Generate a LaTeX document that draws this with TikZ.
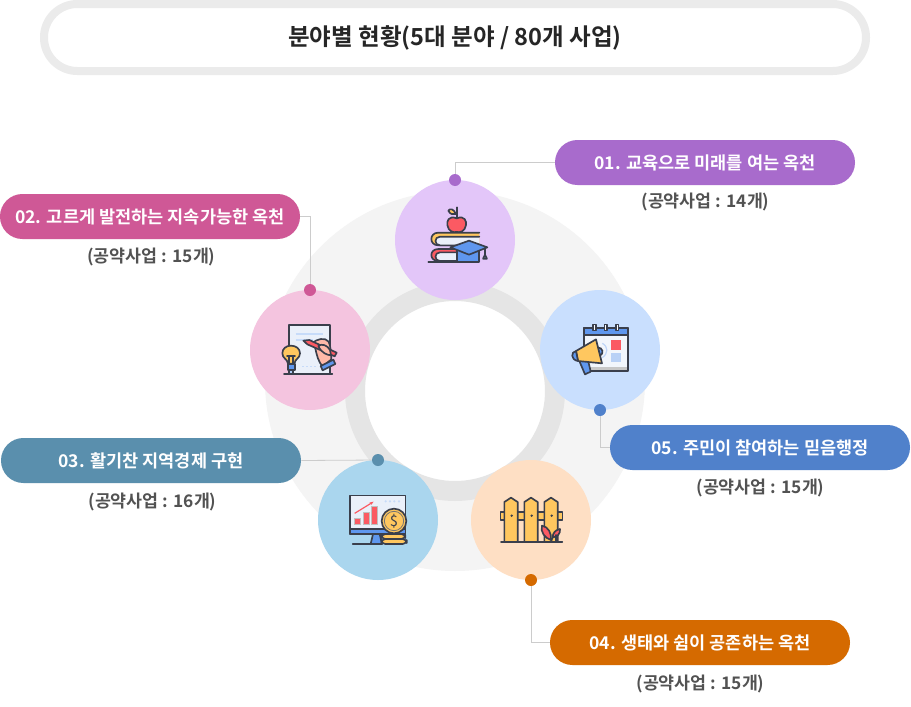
\documentclass[tikz,border=0pt]{standalone}
\usepackage{fontspec}
\setmainfont{Noto Sans CJK KR}
\newfontfamily\krmed{Noto Sans CJK KR Bold}
\usetikzlibrary{calc,arrows.meta}
\definecolor{ink}{HTML}{3A3F4C}
\definecolor{yel}{HTML}{FFC75F}
\definecolor{redd}{HTML}{FB5A63}
\definecolor{blu}{HTML}{5F97EE}
\definecolor{pal}{HTML}{EAF0FA}
\definecolor{skin}{HTML}{FFB9A8}
\definecolor{cone}{RGB}{227,198,249}
\definecolor{ctwo}{RGB}{244,196,223}
\definecolor{cthree}{RGB}{170,214,238}
\definecolor{cfour}{RGB}{254,223,196}
\definecolor{cfive}{RGB}{201,223,254}
\definecolor{pone}{RGB}{168,107,204}
\definecolor{ptwo}{RGB}{207,88,150}
\definecolor{pthree}{RGB}{90,143,173}
\definecolor{pfour}{RGB}{213,106,0}
\definecolor{pfive}{RGB}{80,129,203}
\tikzset{
 pill/.style={rounded corners=16.8pt,minimum width=225pt,minimum height=33.75pt,inner sep=0pt,text=white,font=\krmed\fontsize{13.15pt}{14pt}\selectfont},
 sub/.style={text=black!68,font=\krmed\fontsize{13pt}{14pt}\selectfont,inner sep=0pt},
 big/.style={circle,minimum size=90pt,inner sep=0pt},
 dot/.style={circle,minimum size=9pt,inner sep=0pt},
 conn/.style={draw=black!20,line width=0.6pt},
 ico/.style={draw=ink,line width=1.25pt,line join=round,line cap=round},
 zoomed/.style={x=0.25pt,y=-0.25pt}
}
\begin{document}
\begin{tikzpicture}[x=0.75pt,y=-0.75pt]
\useasboundingbox (0,0) rectangle (911,707);
\fill[white] (0,0) rectangle (911,707);
% title
\node[draw=black!8,line width=6pt,fill=white,rounded corners=25pt,minimum width=616.5pt,minimum height=50.25pt,inner sep=0pt,
 font=\krmed\fontsize{17.65pt}{18pt}\selectfont,text=black!85] (title) at (455,37.5) {\raisebox{-1pt}{분야별 현황(5대 분야 / 80개 사업)}};
% wheel
\node[circle,fill=black!4.5,minimum size=285pt,inner sep=0pt] (bg) at (455,381) {};
\node[circle,fill=white,draw=black!10,line width=15pt,minimum size=150pt,inner sep=0pt] (ring) at (455,391) {};
% big circles
\node[big,fill=cone] (c1) at (455,240) {};
\node[big,fill=cfive] (c5) at (600,350) {};
\node[big,fill=ctwo] (c2) at (310,350) {};
\node[big,fill=cthree] (c3) at (378,520) {};
\node[big,fill=cfour] (c4) at (531,520) {};
% pills
\node[pill,fill=pone] (p1) at (705,162.5) {01. 교육으로 미래를 여는 옥천};
\node[pill,fill=ptwo] (p2) at (150,216.5) {02. 고르게 발전하는 지속가능한 옥천};
\node[pill,fill=pthree] (p3) at (151,460.5) {03. 활기찬 지역경제 구현};
\node[pill,fill=pfour] (p4) at (700,642.5) {04. 생태와 쉼이 공존하는 옥천};
\node[pill,fill=pfive] (p5) at (760,447.5) {05. 주민이 참여하는 믿음행정};
% dots
\node[dot,fill=pone] (d1) at (455,180) {};
\node[dot,fill=ptwo] (d2) at (310,290) {};
\node[dot,fill=pthree] (d3) at (378,460) {};
\node[dot,fill=pfour] (d4) at (531,580) {};
\node[dot,fill=pfive] (d5) at (600,410) {};
% connectors
\draw[conn] (d1) |- (p1.west);
\draw[conn] (d2) |- (p2.east);
\draw[conn] (p3.east) -- (d3);
\draw[conn] (d4) |- (p4.west);
\draw[conn] (d5) |- (p5.west);
% sublabels
\node[sub] (s1) at (705.5,202) {(공약사업 : 14개)};
\node[sub] (s2) at (151.5,257) {(공약사업 : 15개)};
\node[sub] (s3) at (152.5,502) {(공약사업 : 16개)};
\node[sub] (s4) at (700.5,684) {(공약사업 : 15개)};
\node[sub] (s5) at (760.5,488) {(공약사업 : 15개)};
% icon 1 books
\begin{scope}[shift={(395,180)},zoomed]
 \draw[ico,fill=yel] (253,158) -- (130,158) .. controls (102,158) and (102,196) .. (130,196) -- (253,196);
 \draw[ico,fill=pal] (253,170) -- (135,170) .. controls (117,170) and (117,196) .. (135,196) -- (253,196);
 \draw[ico,fill=redd] (253,207) -- (130,207) .. controls (102,207) and (102,243) .. (130,243) -- (253,243);
 \draw[ico,fill=pal] (253,217) -- (135,217) .. controls (117,217) and (117,243) .. (135,243) -- (253,243);
 \draw[ico,fill=blu] (185,205) -- (185,245) -- (251,245) -- (251,205) -- cycle;
 \draw[ico,fill=blu] (166,202) -- (222,182) -- (277,202) -- (222,224) -- cycle;
 \draw[ico] (270,206) -- (270,226);
 \draw[ico,fill=blu!60] (270,224) -- (276,236) -- (264,236) -- cycle;
 \draw[ico] (100,245) -- (185,245);
 \draw[ico,fill=redd] (185,115) .. controls (160,105) and (155,125) .. (157,135) .. controls (160,155) and (175,158) .. (185,156) .. controls (195,158) and (210,155) .. (213,135) .. controls (215,125) and (210,105) .. (185,115) -- cycle;
 \draw[ico] (185,115) -- (185,82);
 \draw[ico,fill=yel] (183,102) .. controls (175,85) and (165,85) .. (160,92) .. controls (165,103) and (175,105) .. (183,102) -- cycle;
\end{scope}
% icon 5 calendar + megaphone
\begin{scope}[shift={(540,290)},zoomed]
 \draw[ico,fill=pal!60!white] (132,113) rectangle (263,243);
 \draw[ico,fill=blu] (132,113) rectangle (263,135);
 \fill[black!22] (134,231) rectangle (261,241);
 \foreach \xx in {163,197,231}{\draw[ico,fill=white] (\xx-4,103) rectangle (\xx+4,121);}
 \fill[redd] (213,151) rectangle (242,180);
 \fill[blu!35!pal] (213,189) rectangle (242,217);
 \draw[blu!40,line width=0.9pt] (187,160) .. controls (205,170) and (205,190) .. (187,203);
 \draw[ico,fill=blu] (118,213) -- (143,205) -- (152,245) -- (135,253) -- cycle;
 \draw[ico,fill=blu] (172,172) .. controls (190,172) and (192,192) .. (180,197) -- cycle;
 \draw[ico,fill=yel] (108,183) -- (168,148) -- (186,220) -- (114,213) -- cycle;
 \draw[ico,fill=blu] (108,183) .. controls (92,185) and (92,210) .. (114,213) -- cycle;
\end{scope}
% icon 2 paper, bulb, hand
\begin{scope}[shift={(250,290)},zoomed]
 \draw[ico,fill=pal] (116,251) -- (116,104) -- (239,104) -- (239,251);
 \draw[blu!35,line width=0.8pt] (137,132) -- (218,132) (137,150) -- (190,150);
 \draw[blu!35,line width=0.8pt,dash pattern=on 1.5pt off 1.5pt] (157,229) -- (197,229);
 \draw[ico,fill=skin] (188,158) .. controls (200,148) and (225,140) .. (236,155) .. controls (243,170) and (243,195) .. (244,208) -- (218,230) .. controls (205,215) and (200,195) .. (196,175) -- cycle;
 \draw[ico,fill=redd] (160,152) -- (178,150) -- (260,188) -- (254,199) -- (172,163) -- cycle;
 \draw[ico,fill=skin] (205,168) .. controls (215,160) and (232,165) .. (240,180) -- (243,196) .. controls (232,195) and (215,190) .. (205,168) -- cycle;
 \draw[ico,fill=blu] (212,228) -- (250,209) -- (256,222) -- (218,241) -- cycle;
 \draw[ico,fill=yel] (114,221) .. controls (112,206) and (97,205) .. (97,190) .. controls (97,176) and (108,167) .. (123,167) .. controls (138,167) and (150,176) .. (150,190) .. controls (150,205) and (135,206) .. (133,221) -- cycle;
 \draw[ico] (117,221) -- (117,198) (129,221) -- (129,198) (111,198) -- (135,198);
 \draw[ico,fill=blu] (113,221) rectangle (134,240);
 \draw[ico,fill=blu!50] (118,240) rectangle (129,251);
 \draw[ico] (102,252) -- (247,252);
\end{scope}
% icon 3 monitor & coin
\begin{scope}[shift={(318,460)},zoomed]
 \draw[ico,fill=blu] (165,222) -- (185,222) -- (192,252) -- (158,252) -- cycle;
 \draw[ico,fill=pal] (95,106) rectangle (262,222);
 \draw[ico,fill=blu] (95,206) rectangle (262,222);
 \draw[black!25,line width=1.2pt] (111,176) rectangle (127,194);
 \fill[redd] (112,178) rectangle (126,193);
 \draw[black!25,line width=1.2pt] (137,158) rectangle (153,194);
 \fill[redd] (138,160) rectangle (152,193);
 \draw[black!25,line width=1.2pt] (162,140) rectangle (178,194);
 \fill[redd] (163,142) rectangle (177,193);
 \draw[redd,line width=0.9pt,-{Stealth[length=3pt]}] (110,160) -- (167,125);
 \foreach \xx in {203,216,229,243}{\fill[blu!35] (\xx,124) circle[radius=0.9pt];}
 \draw[ico] (104,252) -- (192,252);
 \draw[ico,fill=yel,rounded corners=3pt] (190,222) rectangle (262,237);
 \draw[ico,fill=yel,rounded corners=3pt] (190,237) rectangle (266,252);
 \draw[ico,fill=yel] (228,183) circle[radius=9.25pt];
 \draw[black!55,line width=0.6pt,fill=yel] (228,183) circle[radius=7.25pt];
 \node[inner sep=0pt,text=ink,font=\fontsize{11pt}{12pt}\selectfont] (dollar) at (228,183) {\$};
\end{scope}
% icon 4 fence
\begin{scope}[shift={(470,460)},zoomed]
 \draw[ico,fill=yel] (91,156) rectangle (277,179);
 \foreach \xx in {123,183,243}{
  \draw[ico,fill=yel] (\xx-20,245) -- (\xx-20,126) -- (\xx,113) -- (\xx+20,126) -- (\xx+20,245);
  \fill[ink] (\xx+2,167) circle[radius=1pt];
 }
 \draw[ico] (93,245) -- (277,245);
 \draw[ico,fill=redd] (243,240) .. controls (225,235) and (210,215) .. (216,197) .. controls (235,200) and (245,220) .. (243,240) -- cycle;
 \draw[ico,fill=redd] (248,232) .. controls (248,220) and (255,210) .. (270,207) .. controls (272,220) and (262,232) .. (248,232) -- cycle;
 \draw[ico] (243,245) -- (248,232) (258,245) -- (258,225);
\end{scope}
\end{tikzpicture}
\end{document}
